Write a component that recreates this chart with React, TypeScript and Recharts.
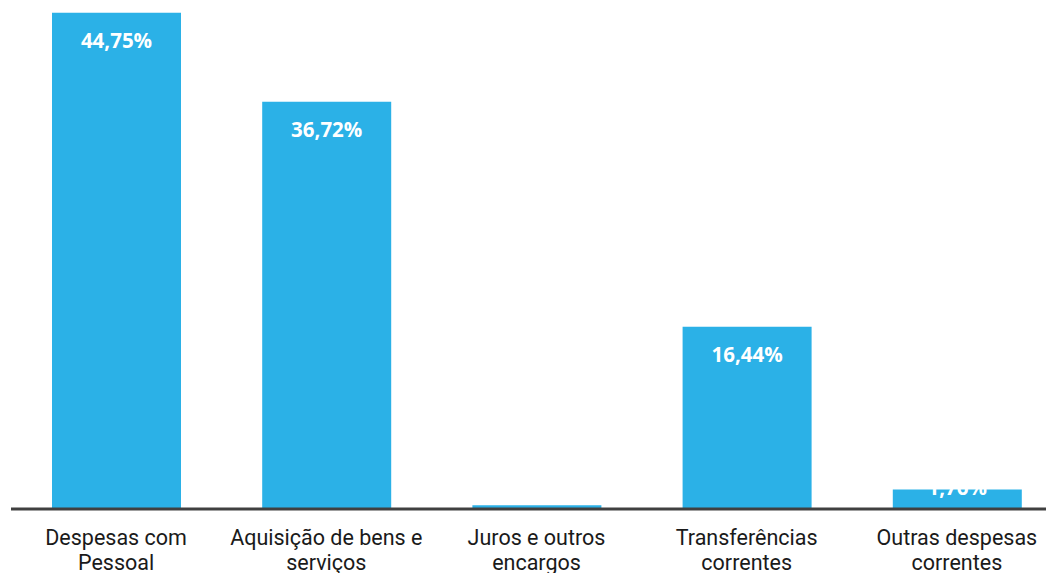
import React from "react";
import { BarChart, Bar, XAxis, YAxis, LabelList } from "recharts";

const categories = [
  "Despesas com\nPessoal",
  "Aquisição de bens e\nserviços",
  "Juros e outros\nencargos",
  "Transferências\ncorrentes",
  "Outras despesas\ncorrentes",
];
const shares = [44.75, 36.72, 0.33, 16.44, 1.76];

const BAR_COLOR = "#2BB1E7";

const data = categories.map((name, i) => ({ name, value: shares[i] }));

function CategoryTick(props: any) {
  const { x, y, payload } = props;
  const lines = String(payload.value).split("\n");
  return (
    <text
      x={x}
      y={y}
      textAnchor="middle"
      fill="#1a1a1a"
      fontFamily="Roboto, sans-serif"
      fontSize={21.5}
    >
      {lines.map((l, i) => (
        <tspan key={i} x={x} dy={i === 0 ? 28 : 25}>
          {l}
        </tspan>
      ))}
    </text>
  );
}

function ValueLabel(props: any) {
  const { x, y, width, value } = props;
  const baseline = 509;
  const cy = Math.min(y + 27, baseline - 22);
  const txt = value.toFixed(2).replace(".", ",") + "%";
  return (
    <text
      x={x + width / 2}
      y={cy}
      textAnchor="middle"
      dominantBaseline="central"
      fill="#ffffff"
      fontFamily="'Open Sans', sans-serif"
      fontWeight={700}
      fontSize={20.5}
    >
      {txt}
    </text>
  );
}

export default function App() {
  return (
    <div
      style={{
        position: "absolute",
        left: 0,
        top: 0,
        width: 1046,
        height: 573,
        overflow: "hidden",
        background: "#fff",
      }}
    >
      <BarChart
        width={1062}
        height={573}
        data={data}
        margin={{ top: 10, right: 0, left: 11, bottom: 0 }}
      >
        <YAxis hide domain={[0, 45]} />
        <XAxis
          dataKey="name"
          height={64}
          interval={0}
          tickLine={false}
          axisLine={{ stroke: "#404040", strokeWidth: 3 }}
          tick={<CategoryTick />}
        />
        <Bar dataKey="value" fill={BAR_COLOR} barSize={129} isAnimationActive={false}>
          <LabelList dataKey="value" content={<ValueLabel />} />
        </Bar>
      </BarChart>
    </div>
  );
}
